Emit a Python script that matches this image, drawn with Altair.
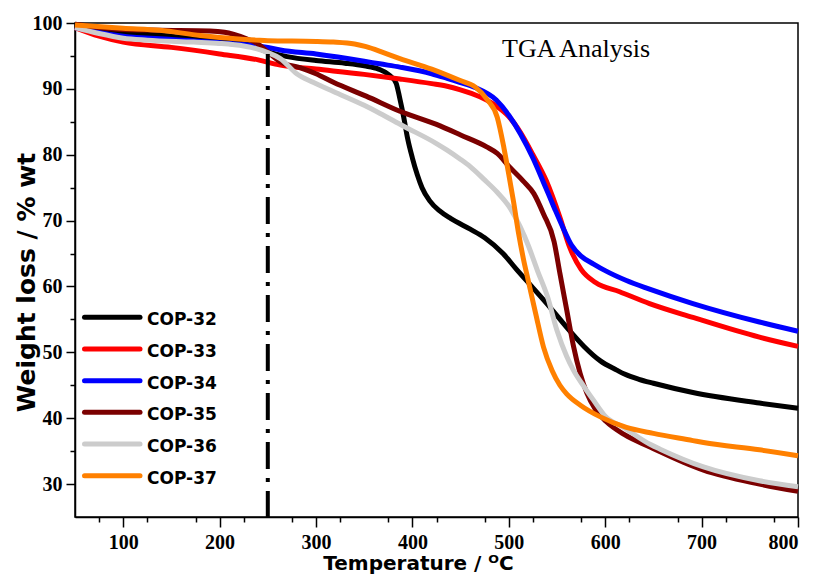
import altair as alt
import pandas as pd

names = ["COP-32", "COP-33", "COP-34", "COP-35", "COP-36", "COP-37"]
colors = ["#000000", "#ff0000", "#0000ff", "#7b0000", "#cccccc", "#ff8000"]

t32 = [50, 100, 150, 200, 230, 250, 270, 300, 330, 350, 365, 375, 383, 387, 391, 395, 400, 405, 410, 418, 428, 440, 460, 475, 494, 508, 525, 543, 563, 578, 595, 612, 620, 635, 650, 691, 760, 800]
w32 = [99.8, 98.6, 98.0, 97.3, 96.7, 95.6, 94.9, 94.3, 93.9, 93.5, 93.0, 92.2, 90.9, 88.5, 85.7, 82.5, 79.5, 77.0, 75.0, 73.0, 71.5, 70.3, 68.7, 67.4, 65.0, 62.6, 59.8, 56.8, 53.3, 50.9, 48.7, 47.3, 46.7, 45.9, 45.3, 43.9, 42.3, 41.5]

t33 = [50, 75, 100, 150, 200, 240, 263, 300, 350, 387, 420, 436, 449, 470, 488, 500, 512, 525, 539, 553, 563, 575, 590, 615, 646, 691, 760, 800]
w33 = [99.3, 98.0, 97.1, 96.3, 95.3, 94.4, 93.6, 93.0, 92.2, 91.5, 90.8, 90.4, 89.9, 88.8, 87.3, 85.8, 83.4, 80.0, 76.0, 70.5, 66.0, 62.6, 60.6, 59.2, 57.4, 55.3, 52.3, 50.9]

t34 = [50, 100, 150, 200, 250, 263, 300, 350, 366, 387, 420, 436, 449, 465, 487, 500, 512, 525, 536, 547, 556, 565, 575, 588, 600, 622, 646, 691, 760, 800]
w34 = [99.3, 98.0, 97.5, 97.0, 96.3, 95.9, 95.3, 94.2, 93.8, 93.3, 92.3, 91.6, 91.0, 90.2, 88.3, 86.0, 83.2, 79.5, 75.8, 72.0, 69.0, 66.3, 64.6, 63.4, 62.4, 60.9, 59.6, 57.4, 54.6, 53.2]

t35 = [50, 70, 100, 138, 190, 205, 214, 228, 240, 250, 263, 284, 300, 318, 352, 387, 425, 450, 477, 488, 501, 515, 526, 536, 547, 553, 560, 567, 574, 581, 590, 601, 620, 647, 657, 702, 760, 800]
w35 = [99.8, 99.4, 99.0, 98.9, 98.8, 98.6, 98.3, 97.6, 96.8, 95.6, 94.1, 93.2, 92.3, 91.0, 88.9, 86.6, 84.6, 83.0, 81.2, 80.2, 78.1, 76.0, 74.1, 71.0, 66.8, 62.0, 56.5, 51.0, 46.8, 43.8, 41.3, 39.5, 37.5, 35.6, 34.9, 32.1, 30.0, 28.9]

t36 = [50, 75, 100, 125, 173, 200, 225, 238, 250, 263, 280, 297, 318, 350, 366, 390, 425, 436, 449, 460, 474, 488, 500, 512, 520, 530, 540, 550, 560, 567, 578, 588, 600, 619, 647, 657, 702, 760, 800]
w36 = [99.3, 98.4, 97.7, 97.4, 97.1, 96.9, 96.5, 96.1, 95.5, 94.6, 92.3, 91.0, 89.6, 87.5, 86.3, 84.4, 81.7, 80.7, 79.4, 78.2, 76.3, 74.3, 72.2, 69.0, 66.3, 62.3, 58.5, 53.3, 49.4, 47.3, 44.8, 42.7, 40.3, 38.6, 36.0, 35.3, 32.6, 30.5, 29.6]

t37 = [50, 100, 138, 180, 200, 238, 250, 300, 318, 340, 352, 370, 387, 420, 449, 465, 478, 488, 495, 500, 505, 510, 515, 520, 528, 536, 545, 553, 560, 575, 595, 622, 650, 691, 702, 760, 800]
w37 = [99.7, 99.2, 98.9, 98.1, 97.8, 97.4, 97.3, 97.2, 97.1, 96.8, 96.4, 95.5, 94.6, 93.0, 91.3, 90.3, 88.3, 85.7, 81.0, 77.0, 72.8, 68.2, 64.3, 61.0, 55.8, 50.8, 47.2, 45.0, 43.7, 41.9, 40.2, 38.6, 37.7, 36.6, 36.3, 35.2, 34.3]

x_major = [100, 200, 300, 400, 500, 600, 700, 800]
x_minor = [75, 125, 175, 225, 275, 325, 375, 425, 475, 525, 575, 625, 675, 725, 775]
y_major = [30, 40, 50, 60, 70, 80, 90, 100]
y_minor = [35, 45, 55, 65, 75, 85, 95]

marker_T = [250]
marker_top = [95.3]
marker_bottom = [25]

note_text = ["TGA Analysis"]
note_T = [493]
note_W = [94.8]

series_T = [t32, t33, t34, t35, t36, t37]
series_W = [w32, w33, w34, w35, w36, w37]

rows = []
for name, ts, ws in zip(names, series_T, series_W):
    for t, w in zip(ts, ws):
        rows.append({"series": name, "T": t, "W": w})
df = pd.DataFrame(rows)

xs = alt.Scale(domain=[50, 800], nice=False, zero=False)
ys = alt.Scale(domain=[25, 100], nice=False, zero=False)
cs = alt.Scale(domain=names, range=colors)

lines = alt.Chart(df).mark_line(strokeWidth=5, interpolate="monotone").encode(
    x=alt.X("T:Q", scale=xs, axis=alt.Axis(
        values=x_major, tickSize=10, labelPadding=5, title="Temperature / ᴼC",
        titleFontSize=20, titleX=343, titleY=52, titleAlign="center",
        titleBaseline="alphabetic")),
    y=alt.Y("W:Q", scale=ys, axis=alt.Axis(
        values=y_major, tickSize=9, labelPadding=4, title="Weight loss / % wt",
        titleFontSize=25, titleX=-49, titleY=259, titleAlign="center",
        titleBaseline="middle")),
    color=alt.Color("series:N", scale=cs, legend=None),
    detail="series:N",
)

vdf = pd.DataFrame({"T": marker_T, "top": marker_top, "bottom": marker_bottom})
vline = alt.Chart(vdf).mark_rule(strokeWidth=4, strokeDash=[27, 9, 4, 9],
                                 strokeDashOffset=4, color="black").encode(
    x=alt.X("T:Q", scale=xs, axis=alt.Axis(
        orient="bottom", values=x_minor, labels=False, domain=False,
        tickSize=5, title="")),
    y=alt.Y("top:Q", scale=ys, axis=alt.Axis(
        orient="left", values=y_minor, labels=False, domain=False,
        tickSize=5, title="")),
    y2="bottom:Q",
)

ndf = pd.DataFrame({"label": note_text, "T": note_T, "W": note_W})
note = alt.Chart(ndf).mark_text(
    align="left", baseline="alphabetic", font="Liberation Serif",
    fontSize=26, color="black").encode(
    x=alt.X("T:Q", scale=xs, axis=None),
    y=alt.Y("W:Q", scale=ys, axis=None),
    text="label:N",
)

ldf = pd.DataFrame({"series": names})
leg_y = alt.Y("series:N",
              scale=alt.Scale(type="point", domain=names, range=[294.3, 452.7], padding=0),
              axis=None)
leg_lines = alt.Chart(ldf).mark_rule(strokeWidth=5, strokeCap="round").encode(
    x=alt.value(9.5), x2=alt.value(65),
    y=leg_y,
    color=alt.Color("series:N", scale=cs, legend=None),
)
leg_text = alt.Chart(ldf).mark_text(
    align="left", baseline="middle", dy=3, font="DejaVu Sans",
    fontWeight="bold", fontSize=17, color="black").encode(
    x=alt.value(72),
    y=leg_y,
    text="series:N",
)

chart = alt.layer(lines, vline, note, leg_lines, leg_text).resolve_scale(
    y="independent"
).resolve_axis(
    x="independent", y="independent"
).properties(
    width=723, height=494,
    autosize=alt.AutoSizeParams(type="none"),
    padding={"left": 67, "top": 15, "right": 10, "bottom": 57},
).configure_view(
    stroke="black", strokeWidth=1.5
).configure_axis(
    domainColor="black", domainWidth=1.5, tickColor="black", tickWidth=1.5,
    labelFont="Liberation Serif", labelFontWeight="bold", labelFontSize=20,
    labelColor="black", titleFont="DejaVu Sans", titleFontWeight="bold",
    titleColor="black", grid=False,
)

chart.save("out.html", embed_options={"renderer": "svg", "actions": False})
